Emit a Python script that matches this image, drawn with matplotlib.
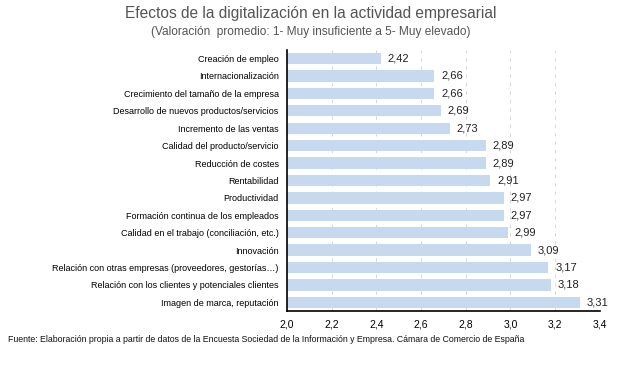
import matplotlib
matplotlib.use("Agg")
import matplotlib.pyplot as plt
from matplotlib import font_manager

# data, top to bottom as in the picture
categories = [
    "Creación de empleo",
    "Internacionalización",
    "Crecimiento del tamaño de la empresa",
    "Desarrollo de nuevos productos/servicios",
    "Incremento de las ventas",
    "Calidad del producto/servicio",
    "Reducción de costes",
    "Rentabilidad",
    "Productividad",
    "Formación continua de los empleados",
    "Calidad en el trabajo (conciliación, etc.)",
    "Innovación",
    "Relación con otras empresas (proveedores, gestorías…)",
    "Relación con los clientes y potenciales clientes",
    "Imagen de marca, reputación",
]
values = [2.42, 2.66, 2.66, 2.69, 2.73, 2.89, 2.89, 2.91, 2.97, 2.97, 2.99, 3.09, 3.17, 3.18, 3.31]
xticks = [2.0, 2.2, 2.4, 2.6, 2.8, 3.0, 3.2, 3.4]

# narrow font if we have one
names = {f.name for f in font_manager.fontManager.ttflist}
fam = "Liberation Sans Narrow" if "Liberation Sans Narrow" in names else "Liberation Sans"
plt.rcParams["font.family"] = [fam, "DejaVu Sans"]

fig = plt.figure(figsize=(6.21, 3.66), dpi=100)
ax = fig.add_axes([0.462, 0.150, 0.504, 0.714])

ypos = list(range(len(categories)))
ax.barh(ypos, values, height=0.65, left=0, color="#c6d9ef", zorder=2)
ax.set_ylim(len(categories) - 0.5, -0.5)
ax.set_xlim(2.0, 3.4)

for y, v in zip(ypos, values):
    ax.text(v + 0.03, y, f"{v:.2f}".replace(".", ","), va="center", ha="left",
            fontsize=8, color="#222222")

ax.set_yticks(ypos)
ax.set_yticklabels(categories, fontsize=6.5)
ax.set_xticks(xticks)
ax.set_xticklabels([f"{t:.1f}".replace(".", ",") for t in xticks], fontsize=7.5)
ax.tick_params(axis="both", length=0, pad=6)

ax.grid(axis="x", color="#d0d0d0", linestyle=(0, (4, 6)), linewidth=0.6, zorder=0)
for s in ["top", "right"]:
    ax.spines[s].set_visible(False)
ax.spines["left"].set_linewidth(1.2)
ax.spines["bottom"].set_linewidth(1.2)

fig.text(0.5, 0.963, "Efectos de la digitalización en la actividad empresarial",
         ha="center", va="center", fontsize=11.2, color="#555555")
fig.text(0.5, 0.912, "(Valoración  promedio: 1- Muy insuficiente a 5- Muy elevado)",
         ha="center", va="center", fontsize=8.6, color="#555555")
fig.text(0.013, 0.072, "Fuente: Elaboración propia a partir de datos de la Encuesta Sociedad de la Información y Empresa. Cámara de Comercio de España",
         ha="left", va="center", fontsize=6.3, color="#111111")

fig.savefig("out.png", dpi=100)
